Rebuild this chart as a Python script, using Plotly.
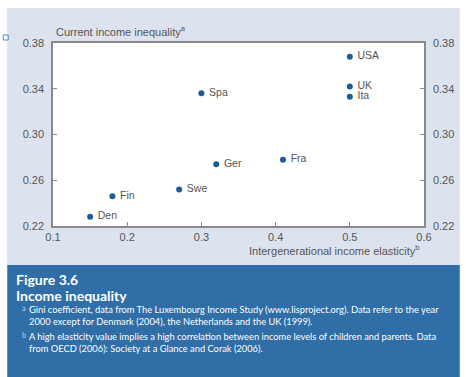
import plotly.graph_objects as go

countries = ["Den", "Fin", "Swe", "Ger", "Spa", "Fra", "USA", "UK", "Ita"]
elasticity = [0.15, 0.18, 0.27, 0.32, 0.30, 0.41, 0.50, 0.50, 0.50]
inequality = [0.228, 0.246, 0.252, 0.274, 0.336, 0.278, 0.368, 0.342, 0.333]
x_ticks = [0.1, 0.2, 0.3, 0.4, 0.5, 0.6]
y_ticks = [0.22, 0.26, 0.30, 0.34, 0.38]

W, H = 466, 377
L, R, T, B = 53, 40, 43, 151
PW, PH = W - L - R, H - T - B

def px(x):
    return (x - L) / PW

def py(y):
    return (H - B - y) / PH

AX = "#8a8a8a"
TXT = "#555555"
FONT = "Liberation Sans, Arial, sans-serif"
CAP = "Lato, Open Sans, sans-serif"

fig = go.Figure()
fig.add_trace(go.Scatter(
    x=elasticity, y=inequality, mode="markers+text",
    text=countries, texttemplate=" %{text}", textposition="middle right",
    textfont=dict(family=FONT, size=10.5, color=TXT),
    marker=dict(color="#1f5c96", size=6),
    cliponaxis=False, showlegend=False, hoverinfo="skip"))
# invisible trace so that the right-hand axis is drawn
fig.add_trace(go.Scatter(x=[elasticity[0]], y=[inequality[0]], yaxis="y2", mode="markers",
                         marker=dict(opacity=0), showlegend=False, hoverinfo="skip"))

shapes = [
    dict(type="rect", xref="paper", yref="paper", x0=px(7), x1=px(462), y0=py(8), y1=py(265),
         fillcolor="#dce3ee", line=dict(width=0), layer="below"),
    dict(type="rect", xref="paper", yref="paper", x0=px(7), x1=px(462), y0=py(265), y1=py(377),
         fillcolor="#2f6ea7", line=dict(width=0), layer="below"),
    dict(type="rect", xref="paper", yref="paper", x0=0, x1=1, y0=0, y1=1,
         fillcolor="white", line=dict(width=0), layer="below"),
    dict(type="rect", xref="paper", yref="paper", x0=px(3), x1=px(8), y0=py(35), y1=py(40),
         fillcolor="rgba(0,0,0,0)", line=dict(width=1, color="#4a90c8")),
]

annotations = [
    dict(text="Current income inequality<sup>a</sup>", x=px(54), y=py(40), xref="paper", yref="paper",
         xanchor="left", yanchor="bottom", showarrow=False, font=dict(family=FONT, size=11, color=TXT)),
    dict(text="Intergenerational income elasticity<sup>b</sup>", x=px(424), y=py(241), xref="paper", yref="paper",
         xanchor="right", yanchor="top", showarrow=False, font=dict(family=FONT, size=11, color=TXT)),
    dict(text="<b>Figure 3.6</b>", x=px(14), y=py(269), xref="paper", yref="paper",
         xanchor="left", yanchor="top", showarrow=False, font=dict(family=CAP, size=14, color="white")),
    dict(text="<b>Income inequality</b>", x=px(14), y=py(285), xref="paper", yref="paper",
         xanchor="left", yanchor="top", showarrow=False, font=dict(family=CAP, size=14, color="white")),
]
notes = [
    (302, "a", "Gini coefficient, data from The Luxembourg Income Study (www.lisproject.org). Data refer to the year"),
    (314, "", "2000 except for Denmark (2004), the Netherlands and the UK (1999)."),
    (329, "b", "A high elasticity value implies a high correlation between income levels of children and parents. Data"),
    (341, "", "from OECD (2006): Society at a Glance and Corak (2006)."),
]
for y, mark, t in notes:
    if mark:
        annotations.append(dict(text=mark, x=px(20), y=py(y), xref="paper", yref="paper",
                                xanchor="left", yanchor="top", showarrow=False,
                                font=dict(family=CAP, size=7, color="#c8d8ea")))
    annotations.append(dict(text=t, x=px(27), y=py(y), xref="paper", yref="paper",
                            xanchor="left", yanchor="top", showarrow=False,
                            font=dict(family=CAP, size=9.3, color="white")))

axis_common = dict(showgrid=False, zeroline=False, showline=True, linecolor=AX, linewidth=1.5,
                   ticks="inside", ticklen=4, tickcolor=AX,
                   tickfont=dict(family=FONT, size=11, color=TXT))

fig.update_layout(
    width=W, height=H, margin=dict(l=L, r=R, t=T, b=B),
    paper_bgcolor="white", plot_bgcolor="white",
    xaxis=dict(range=[0.1, 0.6], tickvals=x_ticks, ticktext=[f"{v:g}" for v in x_ticks],
               mirror=True, **axis_common),
    yaxis=dict(range=[0.22, 0.38], tickvals=y_ticks, ticktext=[f"{v:.2f}" for v in y_ticks],
               ticklabelstandoff=5, **axis_common),
    yaxis2=dict(range=[0.22, 0.38], tickvals=y_ticks, ticktext=[f"{v:.2f}" for v in y_ticks],
                overlaying="y", side="right", ticklabelstandoff=5, **axis_common),
    shapes=shapes, annotations=annotations,
)
fig.write_html("out.html", config={"displayModeBar": False},
               post_script="document.body.style.margin='0';")
